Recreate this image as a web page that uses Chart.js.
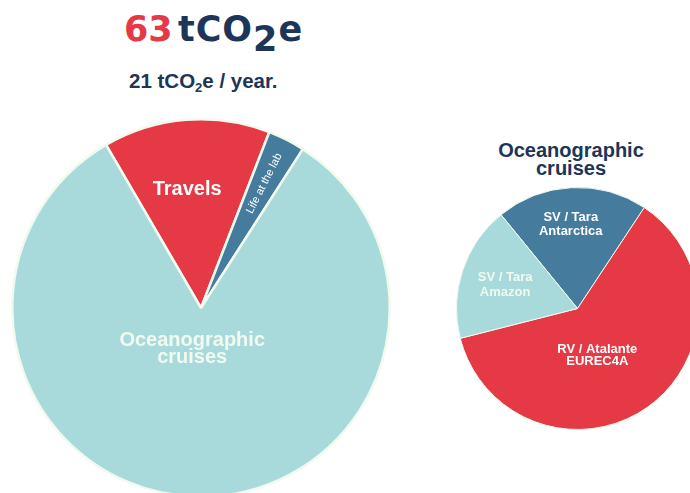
<!DOCTYPE html>
<html>
<head>
<meta charset="utf-8">
<script src="https://cdn.jsdelivr.net/npm/chart.js@4/dist/chart.umd.min.js"></script>
<style>
  html, body { margin: 0; padding: 0; background: #ffffff; width: 690px; height: 493px; overflow: hidden; }
  .box { position: absolute; }
  #total { left: 124px; top: 12px; font: bold 35px "DejaVu Sans", sans-serif; color: #1d3557; line-height: 35px; white-space: nowrap; word-spacing: -8px; letter-spacing: 1px; }
  #total .red { color: #e63946; letter-spacing: 0; }
  #total .sub { position: relative; top: 10px; }
  #perYear { left: 129px; top: 70px; font: bold 20.5px "Liberation Sans", Arial, sans-serif; color: #1d3557; line-height: 21px; white-space: nowrap; }
  #perYear .sub { font-size: 13px; position: relative; top: 4px; }
  #cruiseTitle { left: 471px; top: 141px; width: 200px; text-align: center; font: bold 20px "Liberation Sans", Arial, sans-serif; color: #1d3557; line-height: 18px; }
  #mainPie { left: 11px; top: 118px; width: 380px; height: 380px; }
  #cruisePie { left: 456px; top: 187px; width: 243px; height: 243px; }
</style>
</head>
<body>
<div class="box" id="total"><span class="red">63</span> tCO<span class="sub">2</span>e</div>
<div class="box" id="perYear">21 tCO<span class="sub">2</span>e / year.</div>
<div class="box" id="cruiseTitle">Oceanographic<br>cruises</div>
<div class="box" id="mainPie"><canvas id="mainChart"></canvas></div>
<div class="box" id="cruisePie"><canvas id="cruiseChart"></canvas></div>

<script>
// total footprint, tCO2e
const mainLabels = ["Travels", "Life at the lab", ["Oceanographic", "cruises"]];
const mainValues = [9, 2, 52];
const mainColors = ["#e63946", "#457b9d", "#a8dadc"];

// split of the oceanographic cruises, tCO2e
const cruiseLabels = [["SV / Tara", "Antarctica"], ["RV / Atalante", "EUREC4A"], ["SV / Tara", "Amazon"]];
const cruiseValues = [10.5, 32.1, 9.4];
const cruiseColors = ["#457b9d", "#e63946", "#a8dadc"];

const bold13 = "bold 13px 'Liberation Sans', Arial, sans-serif";
const bold20 = "bold 20px 'Liberation Sans', Arial, sans-serif";

// writes each slice name inside its slice
// radius: fraction of the pie radius, shift: degrees off the slice middle
function sliceLabels(items) {
  return {
    id: "sliceLabels",
    afterDatasetsDraw(chart) {
      const ctx = chart.ctx;
      const arcs = chart.getDatasetMeta(0).data;
      arcs.forEach(function (arc, i) {
        const item = items[i];
        const p = arc.getProps(["x", "y", "startAngle", "endAngle", "outerRadius"], true);
        const mid = (p.startAngle + p.endAngle) / 2 + (item.shift || 0) * Math.PI / 180;
        const r = p.outerRadius * item.radius;
        let lines = chart.data.labels[i];
        if (!Array.isArray(lines)) lines = [lines];

        ctx.save();
        ctx.translate(p.x + Math.cos(mid) * r, p.y + Math.sin(mid) * r);
        if (item.rotate) ctx.rotate(mid);
        ctx.font = item.font;
        ctx.fillStyle = item.color;
        ctx.textAlign = "center";
        ctx.textBaseline = "middle";
        const top = -(lines.length - 1) * item.lineHeight / 2;
        lines.forEach(function (line, j) {
          ctx.fillText(line, 0, top + j * item.lineHeight);
        });
        ctx.restore();
      });
    }
  };
}

function pieOptions(rotation, borderWidth) {
  return {
    responsive: true,
    maintainAspectRatio: false,
    animation: false,
    events: [],
    rotation: rotation,
    layout: { padding: 0 },
    elements: { arc: { borderColor: "#f1faee", borderWidth: borderWidth, hoverOffset: 0, offset: 0 } },
    plugins: {
      legend: { display: false },
      tooltip: { enabled: false }
    }
  };
}

new Chart(document.getElementById("mainChart"), {
  type: "pie",
  data: {
    labels: mainLabels,
    datasets: [{ data: mainValues, backgroundColor: mainColors }]
  },
  options: pieOptions(-30.2, 2.5),
  plugins: [sliceLabels([
    { radius: 0.63, shift: -2.2, font: bold20, color: "#ffffff", lineHeight: 20 },
    { radius: 0.74, rotate: true, font: "11px 'Liberation Sans', Arial, sans-serif", color: "#ffffff", lineHeight: 12 },
    { radius: 0.22, shift: 11, font: bold20, color: "#f1faee", lineHeight: 17 }
  ])]
});

new Chart(document.getElementById("cruiseChart"), {
  type: "pie",
  data: {
    labels: cruiseLabels,
    datasets: [{ data: cruiseValues, backgroundColor: cruiseColors }]
  },
  options: pieOptions(-39.2, 1),
  plugins: [sliceLabels([
    { radius: 0.70, shift: -1.7, font: bold13, color: "#ffffff", lineHeight: 14 },
    { radius: 0.42, shift: 12.5, font: bold13, color: "#ffffff", lineHeight: 12 },
    { radius: 0.63, font: bold13, color: "#f1faee", lineHeight: 15 }
  ])]
});
</script>
</body>
</html>
